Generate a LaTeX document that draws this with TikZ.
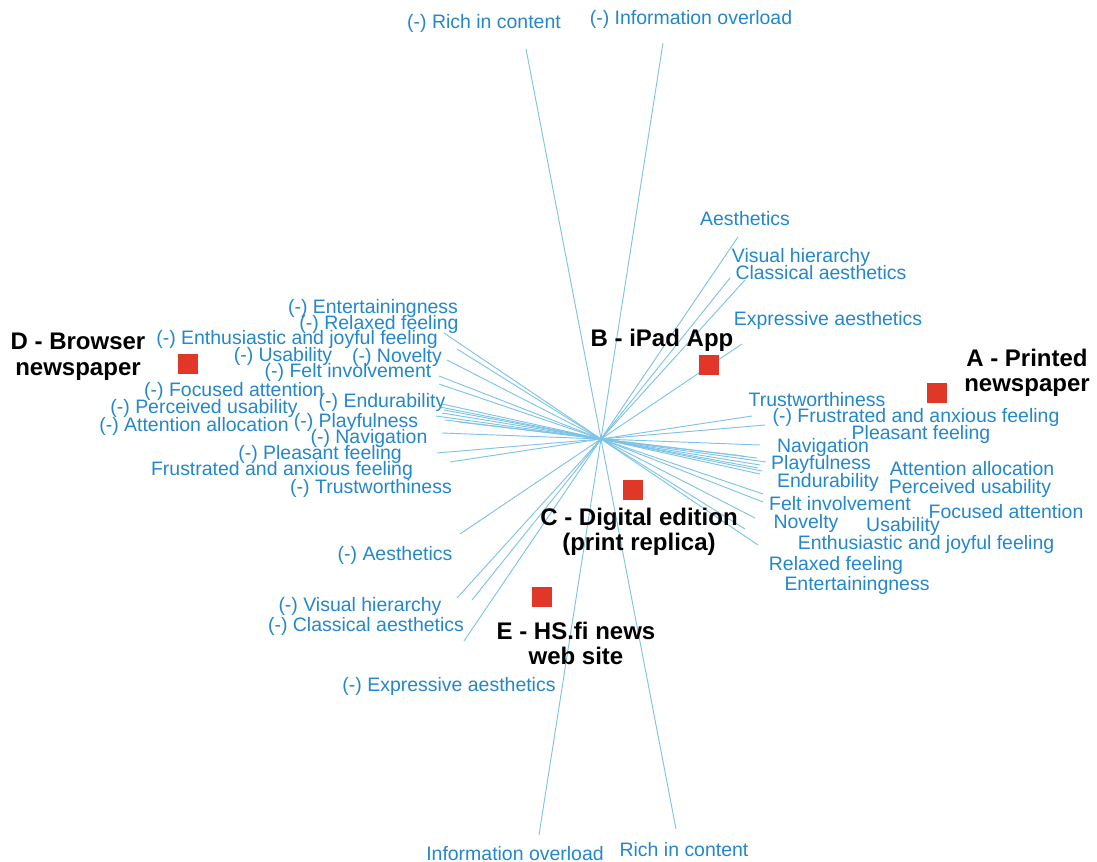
\documentclass[tikz,border=0pt]{standalone}
\usepackage{fontspec}
\setmainfont{Liberation Sans}
\usepackage{tikz}
\usetikzlibrary{calc}
\definecolor{axisblue}{RGB}{125,195,230}
\definecolor{labelblue}{RGB}{35,135,205}
\definecolor{markred}{RGB}{225,55,40}
\tikzset{
  axisline/.style={draw=axisblue,line width=0.7pt},
  attr/.style={inner sep=0pt,yshift=-1.3pt,text=labelblue,font=\fontsize{14.6}{16}\selectfont},
  altlabel/.style={inner sep=0pt,yshift=-1.3pt,align=center,text=black,font=\fontsize{18}{19}\selectfont\bfseries},
  altmark/.style={rectangle,fill=markred,minimum size=14.5pt,inner sep=0pt}
}

\begin{document}
\begin{tikzpicture}[x=0.75pt,y=-0.75pt]
  \useasboundingbox (0,0) rectangle (1097,862);
  \coordinate (ctr) at (601,439);

  % attribute axes, drawn through the centre
  \foreach \px/\py [count=\i] in {738/237, 730/278, 745/280, 742/344,
      676/829, 539/835,
      752/416, 765/425, 760/445, 743/456, 757/458, 766/462, 760/465, 758/468,
      762/471, 760/474, 763/494, 763/502, 755/518, 745/529, 758/545} {
    \coordinate (pos\i) at (\px,\py);
    \coordinate (neg\i) at ($(ctr)!-1!(pos\i)$);
    \draw[axisline] (pos\i) -- (neg\i);
  }

  % top and bottom
  \node[attr] (richN) at (484,22) {(-) Rich in content};
  \node[attr] (infoN) at (691,18) {(-) Information overload};
  \node[attr] (infoP) at (515,852) {Information overload};
  \node[attr] (richP) at (684,848) {Rich in content};

  % aesthetics
  \node[attr] (aesP) at (745,217) {Aesthetics};
  \node[attr] (visP) at (801,256) {Visual hierarchy};
  \node[attr] (claP) at (821,271) {Classical aesthetics};
  \node[attr] (expP) at (828,319) {Expressive aesthetics};
  \node[attr] (aesN) at (395,554) {(-) Aesthetics};
  \node[attr] (visN) at (360,605) {(-) Visual hierarchy};
  \node[attr] (claN) at (366,625) {(-) Classical aesthetics};
  \node[attr] (expN) at (449,685) {(-) Expressive aesthetics};

  % right hand side
  \node[attr] (truP) at (817,398) {Trustworthiness};
  \node[attr] (fruN) at (916,416) {(-) Frustrated and anxious feeling};
  \node[attr] (pleP) at (921,433) {Pleasant feeling};
  \node[attr] (navP) at (823,446) {Navigation};
  \node[attr] (plaP) at (821,463) {Playfulness};
  \node[attr] (attP) at (972,467) {Attention allocation};
  \node[attr] (endP) at (828,481) {Endurability};
  \node[attr] (perP) at (970,487) {Perceived usability};
  \node[attr] (felP) at (840,502) {Felt involvement};
  \node[attr] (focP) at (1006,510) {Focused attention};
  \node[attr] (novP) at (806,522) {Novelty};
  \node[attr] (usaP) at (903,525) {Usability};
  \node[attr] (entP) at (926,543) {Enthusiastic and joyful feeling};
  \node[attr] (relP) at (836,564) {Relaxed feeling};
  \node[attr] (etgP) at (857,584) {Entertainingness};

  % left hand side
  \node[attr] (etgN) at (373,307) {(-) Entertainingness};
  \node[attr] (relN) at (379,323) {(-) Relaxed feeling};
  \node[attr] (entN) at (297,338) {(-) Enthusiastic and joyful feeling};
  \node[attr] (usaN) at (283,355) {(-) Usability};
  \node[attr] (novN) at (397,356) {(-) Novelty};
  \node[attr] (felN) at (348,371) {(-) Felt involvement};
  \node[attr] (focN) at (234,390) {(-) Focused attention};
  \node[attr] (endN) at (382,401) {(-) Endurability};
  \node[attr] (perN) at (204,407) {(-) Perceived usability};
  \node[attr] (plaN) at (356,421) {(-) Playfulness};
  \node[attr] (attN) at (194,425) {(-) Attention allocation};
  \node[attr] (navN) at (369,437) {(-) Navigation};
  \node[attr] (pleN) at (320,453) {(-) Pleasant feeling};
  \node[attr] (fruP) at (282,469) {Frustrated and anxious feeling};
  \node[attr] (truN) at (371,487) {(-) Trustworthiness};

  % alternatives
  \node[altmark] (mA) at (937,393) {};
  \node[altmark] (mB) at (709,365) {};
  \node[altmark] (mC) at (633,490) {};
  \node[altmark] (mD) at (188,364) {};
  \node[altmark] (mE) at (542,597) {};
  \node[altlabel] (altA) at (1027,371) {A - Printed\\newspaper};
  \node[altlabel] (altB) at (662,339) {B - iPad App};
  \node[altlabel] (altC) at (639,530) {C - Digital edition\\(print replica)};
  \node[altlabel] (altD) at (78,355) {D - Browser\\newspaper};
  \node[altlabel] (altE) at (576,642) {E - HS.fi news\\web site};
\end{tikzpicture}
\end{document}
